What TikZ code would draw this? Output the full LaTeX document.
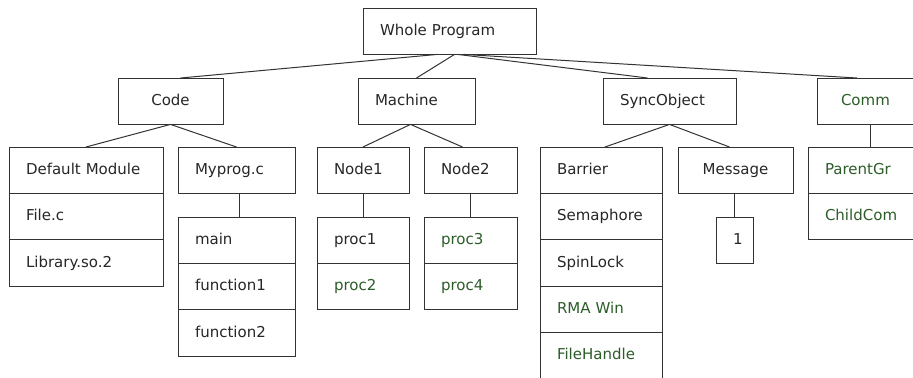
\documentclass[tikz,border=0pt]{standalone}
\usepackage{fontspec}
\setmainfont{DejaVu Sans}
\usetikzlibrary{positioning}

\newlength\px
\setlength\px{0.6pt}
\definecolor{leafgreen}{RGB}{44,92,40}

\tikzset{
  cell/.style={draw=black!80, line width=0.6pt, anchor=north west,
    minimum height=46.4\px, inner xsep=17\px, inner ysep=0pt, outer sep=0pt,
    text width=#1, text height=7pt, text depth=2pt, align=left, text=black!85,
    font=\fontsize{9}{11}\selectfont},
  mid/.style={align=center},
  green/.style={text=leafgreen},
  link/.style={draw=black!80, line width=0.6pt}
}

\begin{document}
\begin{tikzpicture}[x=0.6pt, y=-0.6pt]
  \clip (0,0) rectangle (913,377);

  % root
  \node[cell=139\px] (wp) at (363,8) {Whole Program};

  % second level
  \node[cell=71\px, mid] (code) at (118,78) {Code};
  \node[cell=83\px] (machine) at (358,78) {Machine};
  \node[cell=99\px] (sync) at (603,78) {SyncObject};
  \node[cell=62\px, inner xsep=24\px, green] (comm) at (817,78) {Comm};

  % code
  \node[cell=120\px] (defmod) at (9,147) {Default Module};
  \node[cell=120\px, below=0pt of defmod] (filec) {File.c};
  \node[cell=120\px, below=0pt of filec] (lib) {Library.so.2};
  \node[cell=83\px] (myprog) at (178,147) {Myprog.c};
  \node[cell=83\px] (main) at (178,217) {main};
  \node[cell=83\px, below=0pt of main] (func1) {function1};
  \node[cell=83\px, below=0pt of func1] (func2) {function2};

  % machine
  \node[cell=58\px] (node1) at (317,147) {Node1};
  \node[cell=58\px] (proc1) at (317,217) {proc1};
  \node[cell=58\px, below=0pt of proc1, green] (proc2) {proc2};
  \node[cell=59\px] (node2) at (424,147) {Node2};
  \node[cell=59\px, green] (proc3) at (424,217) {proc3};
  \node[cell=59\px, below=0pt of proc3, green] (proc4) {proc4};

  % sync objects
  \node[cell=88\px] (barrier) at (540,147) {Barrier};
  \node[cell=88\px, below=0pt of barrier] (sema) {Semaphore};
  \node[cell=88\px, below=0pt of sema] (spin) {SpinLock};
  \node[cell=88\px, below=0pt of spin, green] (rma) {RMA Win};
  \node[cell=88\px, below=0pt of rma, green] (fileh) {FileHandle};
  \node[cell=81\px, mid] (message) at (678,147) {Message};
  \node[cell=3\px, mid] (one) at (716,217) {1};

  % comm
  \node[cell=83\px, green] (parent) at (808,147) {ParentGr};
  \node[cell=83\px, below=0pt of parent, green] (child) {ChildCom};

  % links from the root
  \draw[link] ([xshift=-12\px]wp.south) -- ([xshift=10\px]code.north);
  \draw[link] ([xshift=5\px]wp.south) -- (machine.north);
  \draw[link] ([xshift=8\px]wp.south) -- ([xshift=-22\px]sync.north);
  \draw[link] ([xshift=14\px]wp.south) -- ([xshift=-15\px]comm.north);

  % links below
  \draw[link] (code.south) -- (defmod.north);
  \draw[link] (code.south) -- (myprog.north);
  \draw[link] ([xshift=-6\px]machine.south) -- (node1.north);
  \draw[link] ([xshift=-6\px]machine.south) -- ([xshift=-8\px]node2.north);
  \draw[link] (sync.south) -- ([xshift=4\px]barrier.north);
  \draw[link] (sync.south) -- ([xshift=-6\px]message.north);
  \draw[link] ([xshift=3\px]myprog.south) -- ([xshift=3\px]main.north);
  \draw[link] (node1.south) -- (proc1.north);
  \draw[link] (node2.south) -- (proc3.north);
  \draw[link] (one.north |- message.south) -- (one.north);
  \draw[link] ([xshift=-2\px]comm.south) -- ([xshift=-2\px]comm.south |- parent.north);
\end{tikzpicture}
\end{document}
